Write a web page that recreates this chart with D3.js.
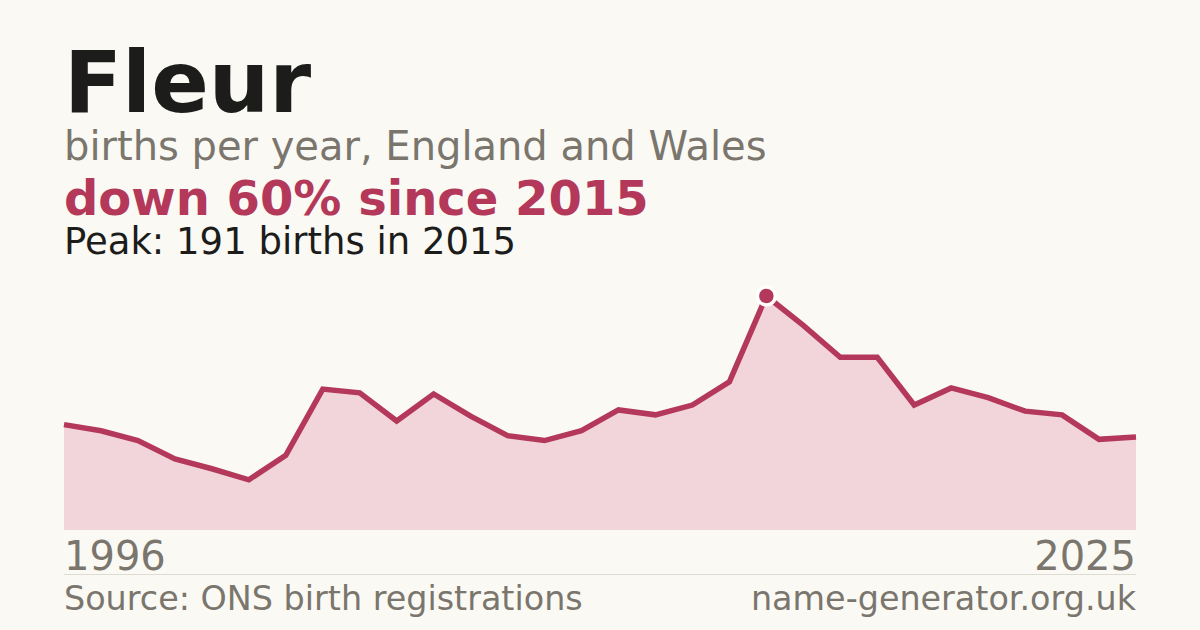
<!DOCTYPE html>
<html>
<head>
<meta charset="utf-8">
<script src="https://cdn.jsdelivr.net/npm/d3@7"></script>
<style>
  html, body { margin: 0; padding: 0; background: #faf9f4; }
  svg { display: block; font-family: "DejaVu Sans", sans-serif; }
</style>
</head>
<body>
<div id="chart"></div>
<script>
// births per year for the name
let years = d3.range(1996, 2026);
let births = [86, 81, 73, 58, 50, 41, 61, 115, 112, 89,
              111, 93, 77, 73, 81, 98, 94, 102, 121, 191,
              167, 141, 141, 102, 116, 108, 97, 94, 74, 76];

let name = 'Fleur';
let subtitle = 'births per year, England and Wales';
let source = 'Source: ONS birth registrations';
let site = 'name-generator.org.uk';

let width = 1200, height = 630;
let left = 64, right = 1136;
let red = '#b3385a';
let grey = '#7a766d';

let svg = d3.select('#chart').append('svg')
    .attr('width', width)
    .attr('height', height);

svg.append('rect')
    .attr('width', width)
    .attr('height', height)
    .attr('fill', '#faf9f4');

let peak = d3.max(births);
let peakIdx = births.indexOf(peak);
let last = births[births.length - 1];
let change = Math.round((1 - last / peak) * 100);

// header texts
svg.append('text')
    .attr('x', left).attr('y', 112)
    .attr('font-size', 85).attr('font-weight', 'bold')
    .attr('fill', '#1c1c1a')
    .text(name);

svg.append('text')
    .attr('x', left).attr('y', 160)
    .attr('font-size', 40)
    .attr('fill', grey)
    .text(subtitle);

svg.append('text')
    .attr('x', left).attr('y', 215)
    .attr('font-size', 48).attr('font-weight', 'bold')
    .attr('fill', red)
    .text('down ' + change + '% since ' + years[peakIdx]);

svg.append('text')
    .attr('x', left).attr('y', 254)
    .attr('font-size', 37)
    .attr('fill', '#1c1c1a')
    .text('Peak: ' + peak + ' births in ' + years[peakIdx]);

// scales
let x = d3.scaleLinear()
    .domain([years[0], years[years.length - 1]])
    .range([left, right]);

let y = d3.scaleLinear()
    .domain([0, peak])
    .range([530, 296]);

let area = d3.area()
    .x((d, i) => x(years[i]))
    .y0(y(0))
    .y1(d => y(d));

let line = d3.line()
    .x((d, i) => x(years[i]))
    .y(d => y(d));

svg.append('path')
    .datum(births)
    .attr('d', area)
    .attr('fill', '#f2d5da');

svg.append('path')
    .datum(births)
    .attr('d', line)
    .attr('fill', 'none')
    .attr('stroke', red)
    .attr('stroke-width', 5.5)
    .attr('stroke-linejoin', 'miter');

// peak marker
svg.append('circle')
    .attr('cx', x(years[peakIdx]))
    .attr('cy', y(peak))
    .attr('r', 9)
    .attr('fill', red)
    .attr('stroke', '#ffffff')
    .attr('stroke-width', 3.5);

// year labels
svg.append('text')
    .attr('x', left).attr('y', 570)
    .attr('font-size', 40)
    .attr('fill', grey)
    .text(years[0]);

svg.append('text')
    .attr('x', right).attr('y', 570)
    .attr('font-size', 40)
    .attr('text-anchor', 'end')
    .attr('fill', grey)
    .text(years[years.length - 1]);

svg.append('line')
    .attr('x1', left).attr('x2', right)
    .attr('y1', 574.5).attr('y2', 574.5)
    .attr('stroke', '#dedbd3')
    .attr('stroke-width', 1);

// footer
svg.append('text')
    .attr('x', left).attr('y', 610)
    .attr('font-size', 33.4)
    .attr('fill', grey)
    .text(source);

svg.append('text')
    .attr('x', right).attr('y', 610)
    .attr('font-size', 33.4)
    .attr('text-anchor', 'end')
    .attr('fill', grey)
    .text(site);
</script>
</body>
</html>
